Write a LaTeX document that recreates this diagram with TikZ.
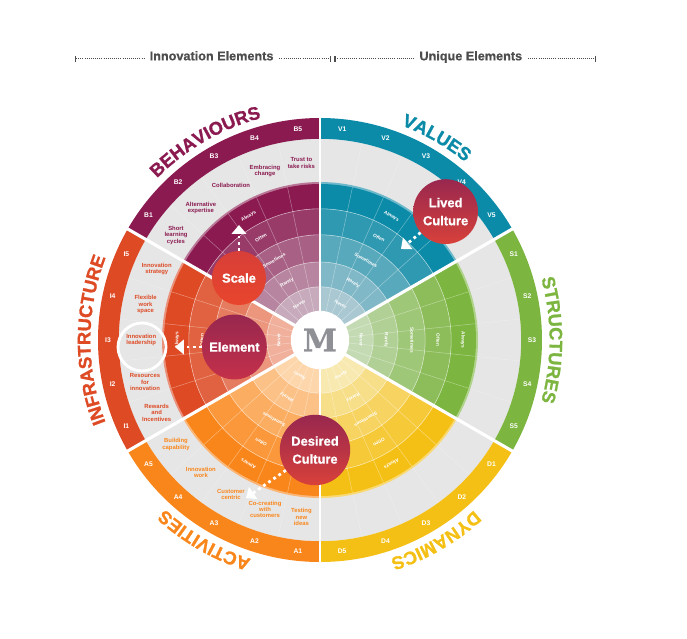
\documentclass[tikz,border=0pt]{standalone}
\usepackage{fontspec}
\setmainfont{Liberation Sans}
\newfontfamily\heavyfont[BoldFeatures={FakeBold=0.8}]{Liberation Sans}
\newfontfamily\titlefont[BoldFeatures={FakeBold=1.2}]{Liberation Sans}
\newfontfamily\slabfont[BoldFeatures={FakeBold=0.5}]{DejaVu Serif}
\usetikzlibrary{arrows.meta,decorations.text}

\definecolor{behcol}{HTML}{8A1A50}
\definecolor{valcol}{HTML}{0B8BA8}
\definecolor{strcol}{HTML}{7CB53F}
\definecolor{dyncol}{HTML}{F5C016}
\definecolor{actcol}{HTML}{F9861A}
\definecolor{infcol}{HTML}{DD4A24}
\definecolor{behbase}{HTML}{D8D2D9}
\definecolor{valbase}{HTML}{D5D9DE}
\definecolor{strbase}{HTML}{D7E4D4}
\definecolor{dynbase}{HTML}{F9F4DB}
\definecolor{actbase}{HTML}{FEECD4}
\definecolor{infbase}{HTML}{F5CDBE}
\definecolor{bandgrey}{HTML}{E6E6E6}
\definecolor{headgrey}{HTML}{4D4D4F}
\definecolor{mgrey}{HTML}{8F9095}
\definecolor{bubtop}{HTML}{98274F}
\definecolor{bubbot}{HTML}{D8413A}
\definecolor{scaletop}{HTML}{D83F38}
\definecolor{scalebot}{HTML}{E8452C}
\definecolor{elembot}{HTML}{C4304A}

\tikzset{
    ringtag/.style={text=white,font=\bfseries\fontsize{4.8}{4.8}\selectfont,inner sep=0pt},
    freqtag/.style={text=white,font=\bfseries\fontsize{3.4}{3.4}\selectfont,inner sep=0pt},
    bandtag/.style={align=center,font=\bfseries\fontsize{4.2}{4.5}\selectfont,inner sep=0pt},
    bubble/.style={circle,inner sep=0pt,align=center,text=white,font=\heavyfont\bfseries\fontsize{9.2}{12.8}\selectfont},
    headtag/.style={font=\heavyfont\bfseries\fontsize{9}{9}\selectfont,text=headgrey,inner sep=0.14cm,text height=7pt,text depth=2pt},
    dotarrow/.style={white,line width=2pt,dash pattern=on 2pt off 2.4pt,-{Triangle[length=0.22cm,width=0.36cm]}},
    headline/.style={headgrey,line width=0.5pt,dash pattern=on 0.5pt off 1pt},
    barend/.style={arrows={-{Bar[width=0.16cm,line width=0.9pt]}}},
    barstart/.style={arrows={{Bar[width=0.16cm,line width=0.9pt]}-}},
}

\newcommand{\ringtitle}[3]{
    \path[decorate,decoration={text along path,text align=center,text color=#2,
        text={|\titlefont\bfseries\fontsize{13}{13}\selectfont|#3}}] (#1:5.74) arc (#1:#1-60:5.74);
}

\begin{document}
\begin{tikzpicture}
    \useasboundingbox (-8,-7.45) rectangle (9.175,8.5);

    % header
    \node[headtag] (inno) at (-2.71,7.08) {Innovation Elements};
    \node[headtag] (uniq) at (3.77,7.08) {Unique Elements};
    \coordinate (headl) at (-6.12,7.03);
    \coordinate (headm) at (0.28,7.03);
    \coordinate (headn) at (0.36,7.03);
    \coordinate (headr) at (6.9,7.03);
    \draw[headline,barstart] (headl) -- (inno.west |- headl);
    \draw[headline,barend] (inno.east |- headl) -- (headm);
    \draw[headline,barstart] (headn) -- (uniq.west |- headn);
    \draw[headline,barend] (uniq.east |- headr) -- (headr);

    % grey band and outer ring
    \fill[bandgrey] (0,0) circle (5.03);
    \foreach \a/\col/\base in {30/valcol/valbase,-30/strcol/strbase,-90/dyncol/dynbase,-150/actcol/actbase,150/infcol/infbase,90/behcol/behbase}{
        \fill[\col] (\a:5.55) arc (\a:\a+60:5.55) -- (\a+60:5.03) arc (\a+60:\a:5.03) -- cycle;
        \fill[\col!60!white] (\a:3.95) arc (\a:\a+60:3.95) -- (\a+60:0.7) arc (\a+60:\a:0.7) -- cycle;
        \foreach \ro/\ri/\pct in {3.9/3.28/100,3.28/2.63/82,2.63/1.95/62,1.95/1.33/42,1.33/0.7/22}{
            \fill[\col!\pct!\base] (\a:\ro) arc (\a:\a+60:\ro) -- (\a+60:\ri) arc (\a+60:\a:\ri) -- cycle;
        }
        \foreach \k in {1,...,4}{
            \draw[white,opacity=0.4,line width=0.35pt] (\a+12*\k:0.73) -- (\a+12*\k:3.9);
            \draw[white,opacity=0.25,line width=0.35pt] (\a+12*\k:3.95) -- (\a+12*\k:5.03);
        }
    }
    \foreach \r in {3.28,2.63,1.95,1.33}{
        \draw[white,opacity=0.6,line width=0.4pt] (0,0) circle (\r);
    }

    % tags on the outer ring
    \foreach \first/\lab in {84/V,24/S,-36/D,-96/A,-156/I,144/B}{
        \foreach \i in {1,...,5}{
            \node[ringtag] (\lab\i) at (\first-12*\i+12:5.3) {\lab\i};
        }
    }

    % frequency tags
    \foreach \mid/\lab in {60/val,0/str,-60/dyn,-120/act,180/inf,120/beh}{
        \foreach \r/\word in {3.57/Always,2.95/Often,2.3/Sometimes,1.65/Rarely,1.03/Never}{
            \node[freqtag,rotate=\mid-90] (\lab\word) at (\mid:\r) {\word};
        }
    }

    % band text
    \foreach \i/\txt in {1/{Short\\learning\\cycles},2/{Alternative\\expertise},3/{Collaboration},4/{Embracing\\change},5/{Trust to\\take risks}}{
        \node[bandtag,text=behcol] (behtxt\i) at (144-12*\i+12:4.45) {\txt};
    }
    \foreach \i/\ang/\rad/\txt in {1/204/4.47/{Rewards\\and\\Incentives},2/193.5/4.5/{Resources\\for\\innovation},3/180/4.47/{Innovation\\leadership},4/168.5/4.45/{Flexible\\work\\space},5/156.5/4.45/{Innovation\\strategy}}{
        \node[bandtag,text=infcol] (inftxt\i) at (\ang:\rad) {\txt};
    }
    \foreach \i/\txt in {1/{Testing\\new\\ideas},2/{Co-creating\\with\\customers},3/{Customer\\centric},4/{Innovation\\work},5/{Building\\capability}}{
        \node[bandtag,text=actcol] (acttxt\i) at (-96-12*\i+12:4.45) {\txt};
    }

    % white spokes and centre
    \foreach \a in {30,-30,150,-150}{
        \draw[white,line width=2.2pt] (\a:0.7) -- (\a:5.65);
    }
    \foreach \a in {90,-90}{
        \draw[white,line width=1.4pt] (\a:0.7) -- (\a:5.65);
    }
    \node[circle,fill=white,minimum size=1.46cm,inner sep=0pt,text=mgrey,font=\slabfont\bfseries\fontsize{22}{22}\selectfont] (mid) at (0,0) {M};

    \node[circle,draw=white,line width=2pt,minimum size=1.2cm,inner sep=0pt] (leadring) at (-4.45,-0.175) {};

    % bubbles and arrows
    \node[bubble,minimum size=1.35cm,top color=scaletop,bottom color=scalebot] (scale) at (-2.025,1.55) {Scale};
    \node[bubble,minimum size=1.62cm,top color=bubtop,bottom color=elembot] (element) at (-2.14,-0.175) {Element};
    \node[bubble,minimum size=1.62cm,top color=bubtop,bottom color=bubbot] (lived) at (3.14,3.21) {Lived\\Culture};
    \node[bubble,minimum size=1.76cm,top color=bubtop,bottom color=bubbot] (desired) at (-0.125,-2.75) {Desired\\Culture};

    \coordinate (scaletip) at (-2.025,2.875);
    \coordinate (elementtip) at (-3.625,-0.175);
    \coordinate (livedtip) at (2.025,2.275);
    \coordinate (desiredtip) at (-1.85,-3.95);
    \draw[dotarrow] (scale) -- (scaletip);
    \draw[dotarrow] (element) -- (elementtip);
    \draw[dotarrow] (lived) -- (livedtip);
    \draw[dotarrow] (desired) -- (desiredtip);

    % titles
    \ringtitle{150}{behcol}{BEHAVIOURS}
    \ringtitle{90}{valcol}{VALUES}
    \ringtitle{30}{strcol}{STRUCTURES}
    \ringtitle{-30}{dyncol}{DYNAMICS}
    \ringtitle{-90}{actcol}{ACTIVITIES}
    \ringtitle{-150}{infcol}{INFRASTRUCTURE}
\end{tikzpicture}
\end{document}
